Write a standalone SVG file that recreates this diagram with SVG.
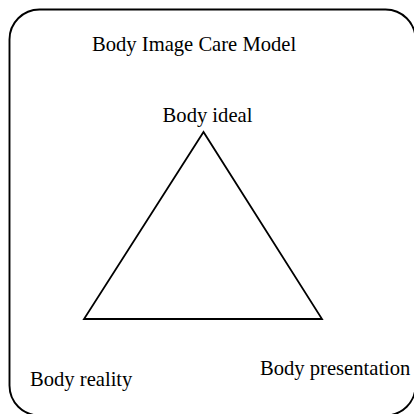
<svg xmlns="http://www.w3.org/2000/svg" width="414" height="414" viewBox="0 0 414 414">
  <style>
    .frame { fill: none; stroke: #000; stroke-width: 1.9; }
    .edge { fill: none; stroke: #000; stroke-width: 1.8; stroke-linejoin: miter; }
    .label { font-family: "Liberation Serif", "Times New Roman", serif; font-size: 20.6px; fill: #000; }
  </style>
  <rect width="414" height="414" fill="#fff"/>
  <!-- outer rounded frame -->
  <rect class="frame" x="9.5" y="9.5" width="406" height="406" rx="30" ry="30"/>
  <text id="title" class="label" x="92" y="51">Body Image Care Model</text>
  <!-- triangle linking the three aspects -->
  <g id="connectors">
    <path class="edge" d="M203.5,132 L84,319 L322,319 Z"/>
  </g>
  <g id="body-ideal">
    <text class="label" x="207.5" y="122" text-anchor="middle">Body ideal</text>
  </g>
  <g id="body-reality">
    <text class="label" x="30" y="386">Body reality</text>
  </g>
  <g id="body-presentation">
    <text class="label" x="260" y="375">Body presentation</text>
  </g>
</svg>
